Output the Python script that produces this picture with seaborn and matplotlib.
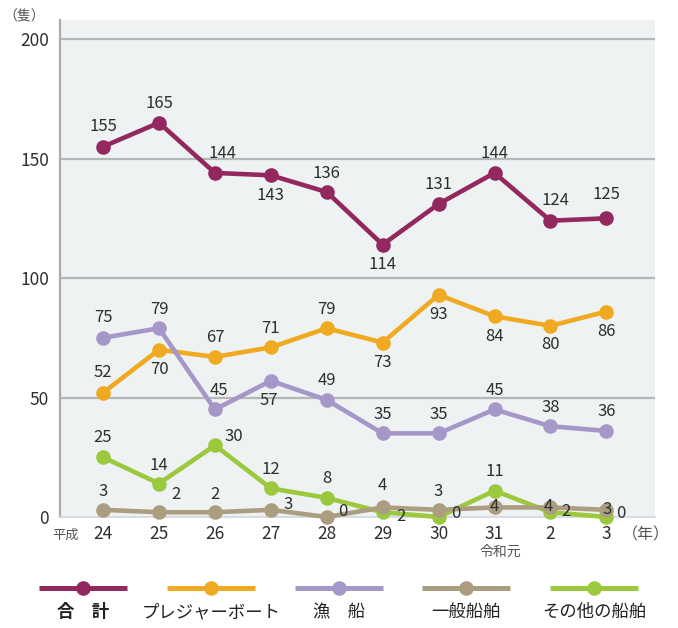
import matplotlib
matplotlib.use("Agg")
import matplotlib.pyplot as plt
import pandas as pd
import seaborn as sns

# 年 (平成24〜令和3)
years = ["24", "25", "26", "27", "28", "29", "30", "31", "2", "3"]
series_names = ["合　計", "プレジャーボート", "漁　船", "一般船舶", "その他の船舶"]

total = [155, 165, 144, 143, 136, 114, 131, 144, 124, 125]
pleasure = [52, 70, 67, 71, 79, 73, 93, 84, 80, 86]
fishing = [75, 79, 45, 57, 49, 35, 35, 45, 38, 36]
general = [3, 2, 2, 3, 0, 4, 3, 4, 4, 3]
other = [25, 14, 30, 12, 8, 2, 0, 11, 2, 0]

colors = ["#93285f", "#f0aa22", "#a697c9", "#ab9e80", "#9cc83e"]

# label offsets in pixels (dx, dy), dy positive = up
offsets = {
    "合　計": [(0, 20), (0, 19), (8, 19), (0, -20), (0, 19), (0, -20), (0, 19), (0, 19), (5, 20), (0, 24)],
    "プレジャーボート": [(0, 20), (0, -20), (0, 19), (0, 19), (0, 19), (0, -20), (0, -20), (0, -20), (0, -19), (0, -20)],
    "漁　船": [(0, 20), (0, 19), (4, 19), (-2, -20), (0, 19), (0, 19), (0, 19), (0, 19), (0, 19), (0, 19)],
    "一般船舶": [(0, 18), (17, 18), (0, 18), (17, 5), (16, 5), (0, 22), (0, 18), (0, 1), (-2, 1), (1, 0)],
    "その他の船舶": [(0, 20), (0, 18), (19, 9), (0, 19), (0, 19), (18, -4), (17, 3), (0, 19), (16, 1), (14, 4)],
}

df = pd.DataFrame({
    "idx": list(range(len(years))) * 5,
    "value": total + pleasure + fishing + general + other,
    "series": sum([[n] * len(years) for n in series_names], []),
})

sns.set_theme(style="white")
plt.rcParams["font.family"] = ["Noto Sans CJK JP", "DejaVu Sans"]
text_color = "#2e2e2e"

fig = plt.figure(figsize=(6.78, 6.28), dpi=100)
ax = fig.add_axes([60 / 678, 1 - 517 / 628, 595 / 678, 497 / 628])
ax.set_facecolor("#eef2f3")

for y in [50, 100, 150, 200]:
    ax.axhline(y, color="#b3b7b9", lw=1.6, zorder=1)

draw_order = ["その他の船舶", "一般船舶", "プレジャーボート", "漁　船", "合　計"]
for k, name in enumerate(draw_order):
    sub = df[df["series"] == name]
    c = colors[series_names.index(name)]
    sns.lineplot(data=sub, x="idx", y="value", color=c, marker="o", markersize=10.5,
                 markeredgewidth=0, linewidth=3.3, ax=ax, legend=False,
                 zorder=3 + k, clip_on=False)

for name in series_names:
    sub = df[df["series"] == name].reset_index(drop=True)
    for i, row in sub.iterrows():
        dx, dy = offsets[name][i]
        ax.annotate(str(row["value"]), (row["idx"], row["value"]), xytext=(dx, dy),
                    textcoords="offset pixels", ha="center", va="center",
                    fontsize=12, color=text_color, zorder=10)

ax.set_xlim(-0.77, 9.87)
ax.set_ylim(0, 208)
ax.set_yticks([0, 50, 100, 150, 200])
ax.set_yticklabels(["0", "50", "100", "150", "200"], fontsize=12.5, color=text_color)
ax.set_xticks(range(len(years)))
ax.set_xticklabels(years, fontsize=12.5, color=text_color)
ax.tick_params(axis="y", length=5, width=1.2, color="#a8acae", pad=3)
ax.tick_params(axis="x", length=0, pad=6)
ax.set_xlabel("")
ax.set_ylabel("")
for side in ["top", "right"]:
    ax.spines[side].set_visible(False)
ax.spines["left"].set_color("#a9adaf")
ax.spines["left"].set_linewidth(1.6)
ax.spines["bottom"].set_color("#cfd8dc")
ax.spines["bottom"].set_linewidth(1.2)

fig.text(24 / 678, 1 - 16 / 628, "（隻）", fontsize=10, color="#555555", ha="center", va="center")
fig.text(66 / 678, 1 - 535 / 628, "平成", fontsize=9.5, color="#555555", ha="center", va="center")
fig.text(500 / 678, 1 - 552 / 628, "令和元", fontsize=10, color="#555555", ha="center", va="center")
fig.text(646 / 678, 1 - 535 / 628, "（年）", fontsize=11.5, color="#555555", ha="center", va="center")

# legend
lg = fig.add_axes([0, 0, 1, 1], facecolor="none")
lg.set_xlim(0, 678)
lg.set_ylim(628, 0)
lg.axis("off")
centers = [83, 211, 339, 466, 594]
for cx, name, c in zip(centers, series_names, colors):
    lg.plot([cx - 44, cx + 44], [588, 588], color=c, lw=3.6, solid_capstyle="butt")
    lg.plot([cx], [588], marker="o", color=c, markersize=10.5, markeredgewidth=0)
    lg.text(cx, 612, name, ha="center", va="center", fontsize=12.5, color="#222222",
            fontweight="bold" if name == "合　計" else "normal")

fig.savefig("out.png", dpi=100)
